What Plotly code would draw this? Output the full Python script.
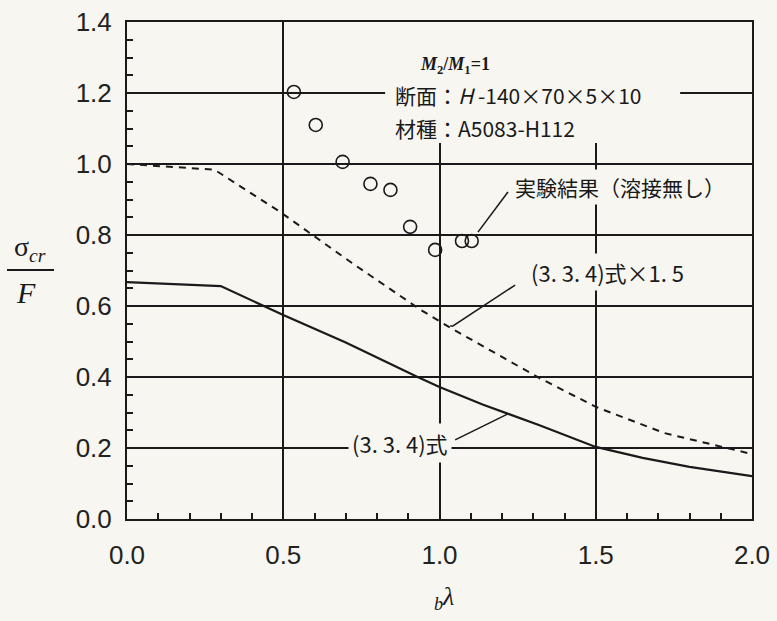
import plotly.graph_objects as go

# ---- data ----
exp_x = [0.534, 0.604, 0.690, 0.779, 0.843, 0.906, 0.986, 1.072, 1.103]
exp_y = [1.203, 1.110, 1.006, 0.944, 0.927, 0.823, 0.758, 0.783, 0.783]

eq_x = [0.0, 0.3, 0.5, 0.7, 0.93, 1.0, 1.14, 1.32, 1.5, 1.65, 1.8, 2.0]
eq_y = [0.667, 0.656, 0.575, 0.497, 0.400, 0.372, 0.322, 0.264, 0.203, 0.172, 0.147, 0.121]

eq15_x = [0.0, 0.28, 0.49, 0.72, 0.94, 1.03, 1.32, 1.5, 1.72, 2.0]
eq15_y = [1.0, 0.984, 0.865, 0.721, 0.589, 0.541, 0.397, 0.316, 0.242, 0.183]

x_ticks = [0.0, 0.5, 1.0, 1.5, 2.0]
y_ticks = [0.0, 0.2, 0.4, 0.6, 0.8, 1.0, 1.2, 1.4]

BG = "#f7f6f1"
INK = "#1a1a1a"
JP = "Noto Sans CJK JP"

fig = go.Figure()
fig.add_trace(go.Scatter(x=eq15_x, y=eq15_y, mode="lines",
                         line=dict(color=INK, width=2, dash="7px,6px"), showlegend=False))
fig.add_trace(go.Scatter(x=eq_x, y=eq_y, mode="lines",
                         line=dict(color=INK, width=2.2), showlegend=False))
fig.add_trace(go.Scatter(x=exp_x, y=exp_y, mode="markers",
                         marker=dict(symbol="circle-open", size=13, color=INK, line=dict(width=1.6)),
                         showlegend=False))

axis_common = dict(showgrid=True, gridcolor=INK, gridwidth=1.5, showline=True, linecolor=INK,
                   linewidth=2, mirror=True, ticks="inside", ticklen=6, tickcolor=INK, tickwidth=1.5,
                   zeroline=False, automargin=False,
                   tickfont=dict(family="Liberation Sans", size=26, color="#222"))
fig.update_xaxes(range=[0, 2], tickvals=x_ticks, ticktext=[f"{v:.1f}" for v in x_ticks],
                 minor=dict(dtick=0.1, tick0=0, ticks="inside", ticklen=6, tickcolor=INK,
                            tickwidth=1.5, showgrid=False),
                 ticklabelstandoff=12, **axis_common)
fig.update_yaxes(range=[0, 1.4], tickvals=y_ticks, ticktext=[f"{v:.1f}" for v in y_ticks],
                 minor=dict(dtick=0.05, tick0=0, ticks="inside", ticklen=6, tickcolor=INK,
                            tickwidth=1.5, showgrid=False),
                 ticklabelstandoff=8, **axis_common)

# mask behind the specimen text block (hides gridlines, like the original)
fig.add_shape(type="rect", xref="x", yref="y", x0=0.826, x1=1.77, y0=1.059, y1=1.4,
              fillcolor=BG, line=dict(width=0), layer="between")

# leader lines
line_style = dict(color=INK, width=1.5)
fig.add_shape(type="line", xref="x", yref="y", x0=1.123, y0=0.808, x1=1.219, y1=0.921, line=line_style)
fig.add_shape(type="path", xref="x", yref="y", path="M 1.034 0.544 L 1.043 0.544 L 1.242 0.659",
              line=line_style)
fig.add_shape(type="line", xref="x", yref="y", x0=1.05, y0=0.223, x1=1.219, y1=0.296, line=line_style)

ann = []
ann.append(dict(x=0.931, y=1.278, xref="x", yref="y", xanchor="left", yanchor="middle",
                text="<b><i>M</i></b><sub><b>2</b></sub><b>/<i>M</i></b><sub><b>1</b></sub><b>=1</b>",
                showarrow=False, font=dict(family="Liberation Serif", size=18, color=INK)))
ann.append(dict(x=0.851, y=1.194, xref="x", yref="y", xanchor="left", yanchor="middle",
                text="断面：<i>H</i> -140×70×5×10", showarrow=False,
                font=dict(family=JP, size=21, color=INK)))
ann.append(dict(x=0.851, y=1.101, xref="x", yref="y", xanchor="left", yanchor="middle",
                text="材種：A5083-H112", showarrow=False,
                font=dict(family=JP, size=21, color=INK)))
ann.append(dict(x=1.232, y=0.935, xref="x", yref="y", xanchor="left", yanchor="middle",
                text="実験結果（溶接無し）", showarrow=False, bgcolor=BG, borderpad=2,
                font=dict(family=JP, size=21, color=INK)))
ann.append(dict(x=1.283, y=0.696, xref="x", yref="y", xanchor="left", yanchor="middle",
                text="(3. 3. 4)式×1. 5", showarrow=False, bgcolor=BG, borderpad=2,
                font=dict(family=JP, size=22, color=INK)))
ann.append(dict(x=0.874, y=0.214, xref="x", yref="y", xanchor="center", yanchor="middle",
                text="(3. 3. 4)式", showarrow=False, bgcolor=BG, borderpad=3,
                font=dict(family=JP, size=22, color=INK)))

# y-axis label as a fraction  sigma_cr / F
def px_x(px):
    return (px - 127) / 625.0

def px_y(py):
    return (519 - py) / 497.0

ann.append(dict(x=px_x(30), y=px_y(248), xref="paper", yref="paper", xanchor="center", yanchor="middle",
                text="σ<sub><i>cr</i></sub>", showarrow=False,
                font=dict(family="Liberation Serif", size=28, color=INK)))
ann.append(dict(x=px_x(26), y=px_y(292), xref="paper", yref="paper", xanchor="center", yanchor="middle",
                text="<i>F</i>", showarrow=False,
                font=dict(family="Liberation Serif", size=30, color=INK)))
ann.append(dict(x=px_x(444), y=px_y(598), xref="paper", yref="paper", xanchor="center", yanchor="middle",
                text="<sub><i>b</i></sub><i>λ</i>", showarrow=False,
                font=dict(family="Liberation Serif", size=26, color=INK)))

fig.add_shape(type="line", xref="paper", yref="paper", x0=px_x(7), x1=px_x(54), y0=px_y(270), y1=px_y(270),
              line=dict(color=INK, width=2))

fig.update_layout(width=777, height=621, margin=dict(l=127, r=25, t=22, b=102),
                  paper_bgcolor=BG, plot_bgcolor=BG, annotations=ann, showlegend=False)

fig.write_html("out.html", config={"displayModeBar": False},
               post_script="document.body.style.margin='0';document.body.style.background='%s';" % BG)
